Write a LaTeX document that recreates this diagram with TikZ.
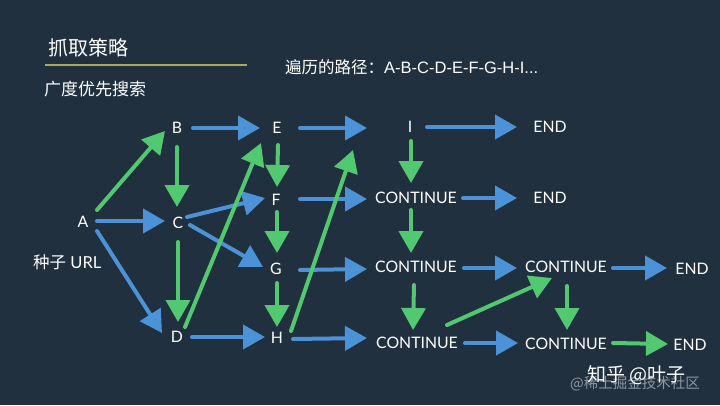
\documentclass[tikz,border=0pt]{standalone}
\usepackage{fontspec}
\setmainfont{Lato}
\newfontfamily\cjk{Noto Sans CJK SC}
\newfontfamily\hel{Liberation Sans}
\usetikzlibrary{arrows.meta,calc}
\definecolor{bg}{HTML}{20303F}
\definecolor{ablue}{RGB}{76,146,214}
\definecolor{agreen}{RGB}{82,200,112}
\definecolor{uline}{HTML}{A8A86A}
\tikzset{
  lbl/.style={text=white,inner sep=0pt,font=\fontsize{15.8}{16}\selectfont},
  ttl/.style={text=white,inner sep=0pt,anchor=west},
  arr/.style={line width=4pt,line cap=round,-{Triangle[length=22pt,width=24pt]}},
  b/.style={arr,draw=ablue,fill=ablue},
  g/.style={arr,draw=agreen,fill=agreen},
}
\begin{document}
\begin{tikzpicture}[x=1pt,y=-1pt]
\fill[bg] (0,0) rectangle (720,405);
\useasboundingbox (0,0) rectangle (720,405);
% titles
\node[ttl,font=\cjk\fontsize{20}{20}\selectfont] (title) at (48,48) {抓取策略};
\coordinate (ul1) at (45,65);
\coordinate (ul2) at (247,65);
\draw[uline,line width=1.2pt] (ul1) -- (ul2);
\node[ttl,font=\cjk\fontsize{17}{17}\selectfont] (bfs) at (44,89) {广度优先搜索};
\node[ttl,font=\fontsize{16.5}{17}\selectfont] (path) at (285,67) {{\cjk 遍历的路径：}{\hel A-B-C-D-E-F-G-H-I...}};
\node[ttl,font=\fontsize{16.5}{17}\selectfont] (seed) at (33,262) {{\cjk 种子} URL};
% nodes
\node[lbl] (A) at (83,222) {A};
\node[lbl] (B) at (177,128) {B};
\node[lbl] (C) at (178,223) {C};
\node[lbl] (D) at (177,337) {D};
\node[lbl] (E) at (277,128) {E};
\node[lbl] (F) at (276,200) {F};
\node[lbl] (G) at (276,269) {G};
\node[lbl] (H) at (277,338) {H};
\node[lbl] (I) at (410,127) {I};
\node[lbl] (END1) at (550,127) {END};
\node[lbl] (C1) at (416,198) {CONTINUE};
\node[lbl] (END2) at (550,198) {END};
\node[lbl] (C2) at (416,267) {CONTINUE};
\node[lbl] (C3) at (566,267) {CONTINUE};
\node[lbl] (END3) at (692,269) {END};
\node[lbl] (C4) at (417,343) {CONTINUE};
\node[lbl] (C5) at (566,344) {CONTINUE};
\node[lbl] (END4) at (690,345) {END};
% arrows
\draw[g] ($(A)+(14,-12)$) -- ($(B)+(-12,3)$);
\draw[b] ($(A)+(14,-1)$) -- ($(C)+(-13,-2)$);
\draw[b] ($(A)+(14,9)$) -- ($(D)+(-15,-4)$);
\draw[g] ($(B)+(0,19)$) -- ($(C)+(-1,-16)$);
\draw[b] ($(B)+(16,0)$) -- ($(E)+(-17,0)$);
\draw[b] ($(C)+(9,-6)$) -- ($(F)+(-11,-2)$);
\draw[b] ($(C)+(12,2)$) -- ($(G)+(-13,-2)$);
\draw[g] ($(C)+(0,19)$) -- ($(D)+(1,-15)$);
\draw[g] ($(D)+(8,-10)$) -- ($(E)+(-16,15)$);
\draw[b] ($(D)+(15,0)$) -- ($(H)+(-12,-1)$);
\draw[g] ($(E)+(1,17)$) -- ($(F)+(1,-13)$);
\draw[g] ($(F)+(1,12)$) -- ($(G)+(1,-16)$);
\draw[g] ($(G)+(1,14)$) -- ($(H)+(0,-11)$);
\draw[b] ($(E)+(23,0)$) -- ($(I)+(-43,1)$);
\draw[b] ($(F)+(24,-1)$) -- ($(C1)+(-49,1)$);
\draw[b] ($(G)+(24,1)$) -- ($(C2)+(-49,2)$);
\draw[b] ($(H)+(16,1)$) -- ($(C4)+(-50,-5)$);
\draw[g] ($(H)+(14,-7)$) -- ($(I)+(-57,23)$);
\draw[b] ($(I)+(17,0)$) -- ($(END1)+(-33,0)$);
\draw[g] ($(I)+(1,14)$) -- ($(C1)+(-5,-15)$);
\draw[b] ($(C1)+(47,0)$) -- ($(END2)+(-33,0)$);
\draw[g] ($(C1)+(-5,12)$) -- ($(C2)+(-5,-14)$);
\draw[b] ($(C2)+(48,1)$) -- ($(C3)+(-49,1)$);
\draw[g] ($(C2)+(-2,18)$) -- ($(C4)+(-4,-13)$);
\draw[b] ($(C3)+(47,1)$) -- ($(END3)+(-25,-1)$);
\draw[g] ($(C4)+(30,-18)$) -- ($(C3)+(-14,11)$);
\draw[g] ($(C3)+(1,19)$) -- ($(C5)+(1,-14)$);
\draw[b] ($(C4)+(48,0)$) -- ($(C5)+(-48,-1)$);
\draw[g] ($(C5)+(47,-1)$) -- ($(END4)+(-22,-1)$);
% watermarks
\node[ttl,text=white!50!bg,font=\cjk\fontsize{14.5}{15}\selectfont] (wm2) at (570,384) {@稀土掘金技术社区};
\node[ttl,font=\cjk\fontsize{19}{19}\selectfont] (wm1) at (587,375) {知乎 @叶子};
\end{tikzpicture}
\end{document}
